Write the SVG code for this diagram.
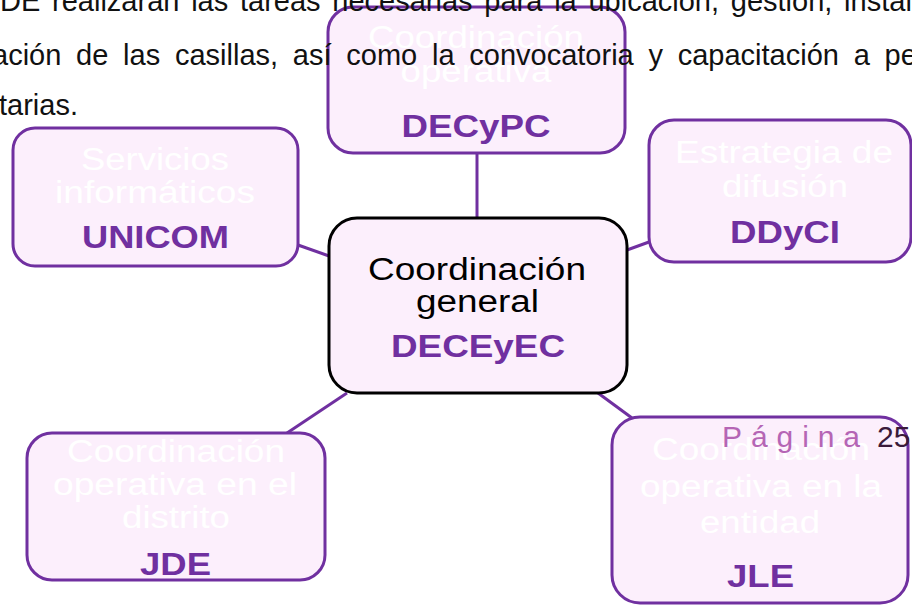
<svg xmlns="http://www.w3.org/2000/svg" width="912" height="607" viewBox="0 0 912 607">
<style>
.box{fill:#FCEFFC;stroke:#7030A0;stroke-width:3}
.center{fill:#FCEFFC;stroke:#000;stroke-width:3}
.t{font-family:"Liberation Sans",Arial,sans-serif;font-size:31px;text-anchor:middle;fill:#fff}
.dark{fill:#000}
.lbl{font-family:"Liberation Sans",Arial,sans-serif;font-size:31px;font-weight:bold;text-anchor:middle;fill:#7030A0}
.bg{font-family:"Liberation Sans",Arial,sans-serif;font-size:29px;fill:#111}
.conn line{stroke:#7030A0;stroke-width:3}
</style>
<rect width="912" height="607" fill="#fff"/>
<g id="connectors" class="conn">
<line x1="477" y1="153" x2="477" y2="218"/>
<line x1="298" y1="245" x2="329" y2="256"/>
<line x1="627" y1="250" x2="649" y2="242"/>
<line x1="347" y1="393" x2="287" y2="433"/>
<line x1="598" y1="393" x2="632" y2="418"/>
</g>
<g id="node-decypc">
<rect class="box" x="328" y="7" width="297" height="146" rx="25"/>
<text class="t" x="476" y="48" textLength="216" lengthAdjust="spacingAndGlyphs">Coordinación</text>
<text class="t" x="476" y="82" textLength="151" lengthAdjust="spacingAndGlyphs">operativa</text>
<text class="lbl" x="476" y="137" textLength="149" lengthAdjust="spacingAndGlyphs">DECyPC</text>
</g>
<g id="node-unicom">
<rect class="box" x="13" y="128" width="285" height="138" rx="22"/>
<text class="t" x="155" y="170" textLength="148" lengthAdjust="spacingAndGlyphs">Servicios</text>
<text class="t" x="155" y="203" textLength="200" lengthAdjust="spacingAndGlyphs">informáticos</text>
<text class="lbl" x="155.5" y="248" textLength="147" lengthAdjust="spacingAndGlyphs">UNICOM</text>
</g>
<g id="node-ddyci">
<rect class="box" x="649" y="120" width="262" height="142" rx="25"/>
<text class="t" x="784" y="163" textLength="218" lengthAdjust="spacingAndGlyphs">Estrategia de</text>
<text class="t" x="785" y="197" textLength="126" lengthAdjust="spacingAndGlyphs">difusión</text>
<text class="lbl" x="785" y="243" textLength="110" lengthAdjust="spacingAndGlyphs">DDyCI</text>
</g>
<g id="node-deceyec">
<rect class="center" x="329" y="218" width="298" height="175" rx="28"/>
<text class="t dark" x="477" y="280" textLength="218" lengthAdjust="spacingAndGlyphs">Coordinación</text>
<text class="t dark" x="477.5" y="312" textLength="123" lengthAdjust="spacingAndGlyphs">general</text>
<text class="lbl" x="478" y="357" textLength="174" lengthAdjust="spacingAndGlyphs">DECEyEC</text>
</g>
<g id="node-jde">
<rect class="box" x="27" y="433" width="298" height="147" rx="25"/>
<text class="t" x="176" y="462" textLength="218" lengthAdjust="spacingAndGlyphs">Coordinación</text>
<text class="t" x="175" y="495" textLength="244" lengthAdjust="spacingAndGlyphs">operativa en el</text>
<text class="t" x="176" y="528" textLength="108" lengthAdjust="spacingAndGlyphs">distrito</text>
<text class="lbl" x="175.5" y="575" textLength="71" lengthAdjust="spacingAndGlyphs">JDE</text>
</g>
<g id="node-jle">
<rect class="box" x="612" y="417" width="296" height="186" rx="28"/>
<text class="t" x="761" y="460" textLength="218" lengthAdjust="spacingAndGlyphs">Coordinación</text>
<text class="t" x="761" y="497" textLength="242" lengthAdjust="spacingAndGlyphs">operativa en la</text>
<text class="t" x="760" y="533" textLength="120" lengthAdjust="spacingAndGlyphs">entidad</text>
<text class="lbl" x="760.5" y="587" textLength="67" lengthAdjust="spacingAndGlyphs">JLE</text>
</g>
<g id="page-text">
<text class="bg" x="0" y="11" style="word-spacing:3.7px">DE realizarán las tareas necesarias para la ubicación, gestión, instal</text>
<text class="bg" x="-8" y="65" style="word-spacing:6.7px">ación de las casillas, así como la convocatoria y capacitación a pe</text>
<text class="bg" x="-1" y="115">tarias.</text>
<text x="722" y="447" font-family="Liberation Sans, Arial, sans-serif" font-size="30" fill="#B565B5" textLength="138" lengthAdjust="spacing">Página</text>
<text x="877" y="447" font-family="Liberation Sans, Arial, sans-serif" font-size="30" fill="#3A1A3A">25</text>
</g>
</svg>
